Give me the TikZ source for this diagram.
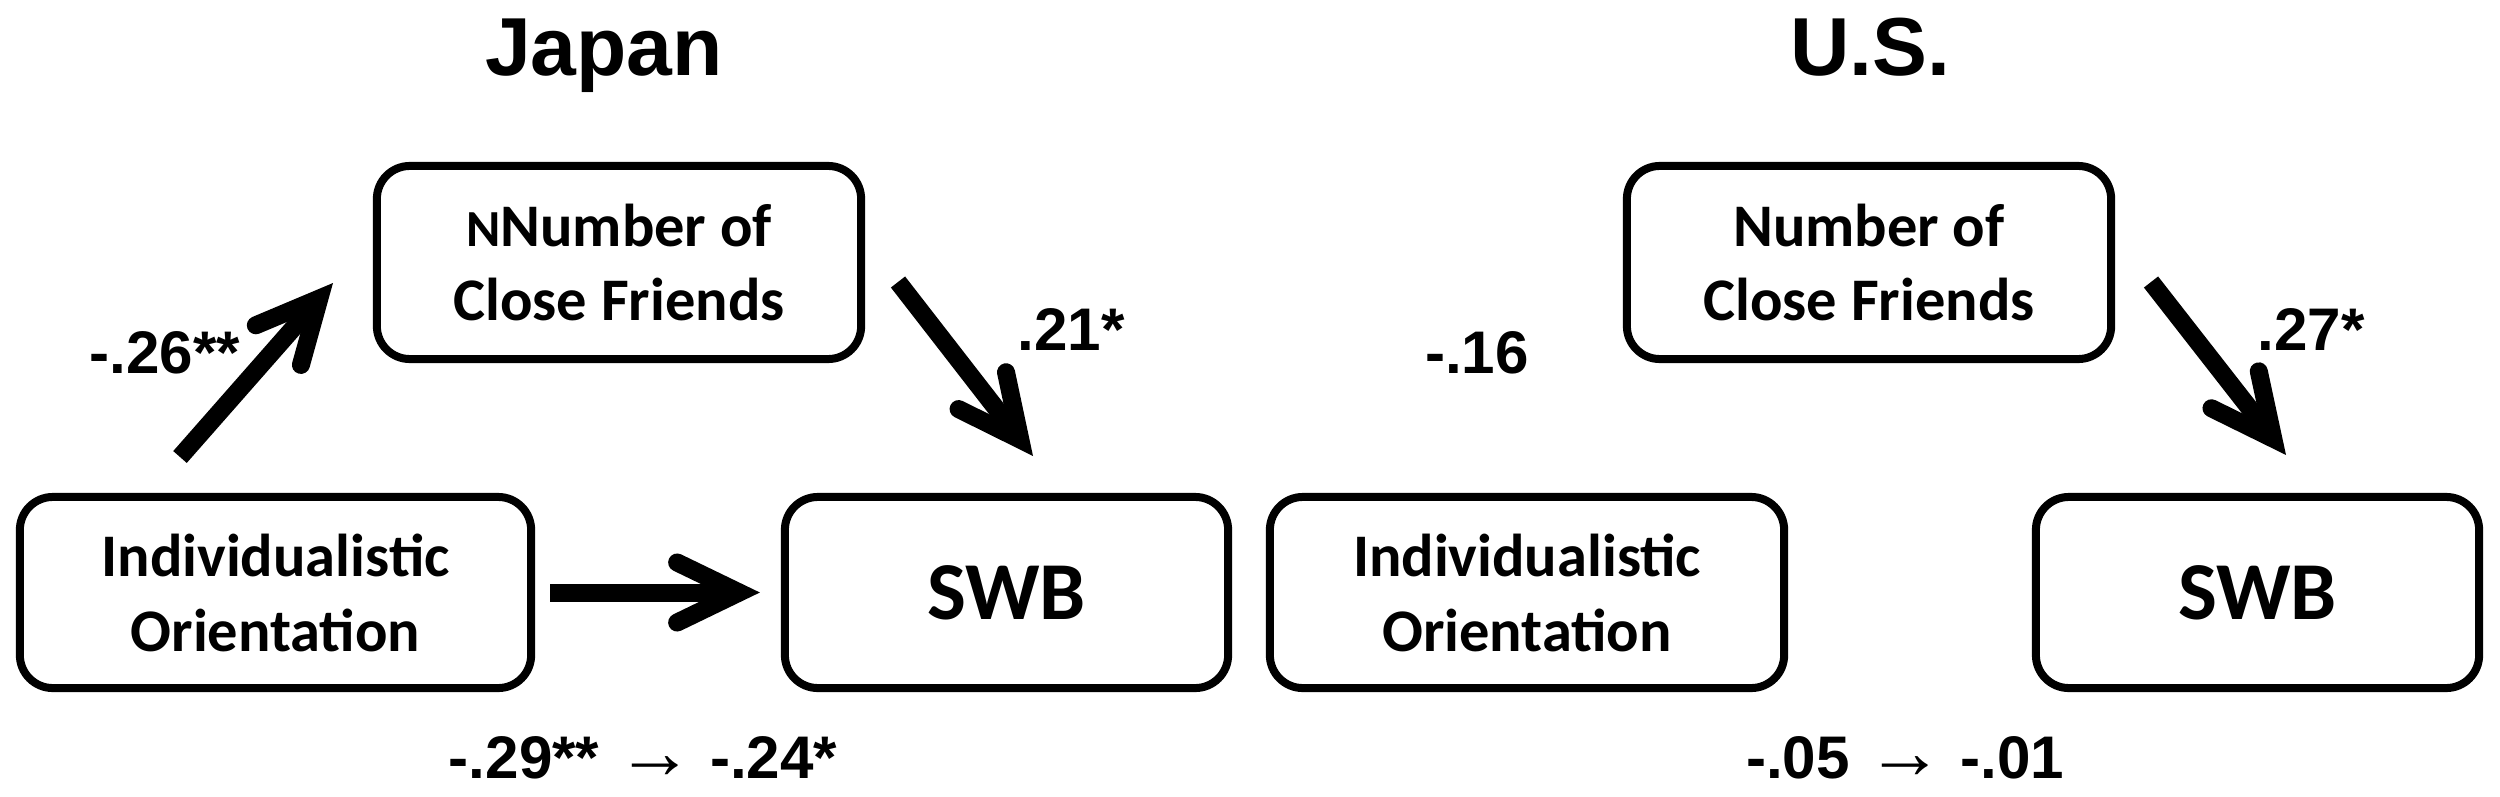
\documentclass[tikz,border=0pt]{standalone}
\usepackage{fontspec}
\usetikzlibrary{arrows.meta}
\newfontfamily\calib{Carlito}
\newfontfamily\arialf{Liberation Sans}
\newcommand{\thinarr}{{\mdseries\fontsize{22pt}{20pt}\selectfont →}}
\begin{document}
\begin{tikzpicture}[x=0.01cm,y=-0.01cm,
  box/.style={draw, line width=0.08cm, rounded corners=0.33cm, inner sep=0pt, outer sep=0.04cm,
    align=center, font=\calib\bfseries\fontsize{17.2pt}{21.3pt}\selectfont},
  bigbox/.style={box, font=\calib\bfseries\fontsize{23.4pt}{28pt}\selectfont},
  lbl/.style={inner sep=0pt, anchor=base, font=\arialf\bfseries\fontsize{17.1pt}{20pt}\selectfont},
  ttl/.style={inner sep=0pt, anchor=base, font=\arialf\bfseries\fontsize{23.4pt}{28pt}\selectfont},
  fat/.style={line width=0.18cm, -{Straight Barb[length=0.62cm, width=0.6cm, line cap=round, line join=miter]}}
]
\useasboundingbox[fill=white] (0,0) rectangle (2500,797);

% titles
\node[ttl] (tjp) at (604,75) {Japan};
\node[ttl] (tus) at (1870,75) {U.S.};

% Japan boxes
\node[box, minimum width=4.84cm, minimum height=1.93cm] (jfr) at (619,262.5)
  {{\fontsize{14.8pt}{14.8pt}\selectfont N}Number of\\Close Friends};
\node[box, minimum width=5.11cm, minimum height=1.91cm] (jind) at (275.5,592.5)
  {Individualistic\\Orientation};
\node[bigbox, minimum width=4.43cm, minimum height=1.91cm] (jswb) at (1006.5,592.5) {SWB};

% US boxes
\node[box, minimum width=4.84cm, minimum height=1.93cm] (ufr) at (1869,262.5)
  {Number of\\Close Friends};
\node[box, minimum width=5.14cm, minimum height=1.91cm] (uind) at (1527,592.5)
  {Individualistic\\Orientation};
\node[bigbox, minimum width=4.43cm, minimum height=1.91cm] (uswb) at (2257.5,592.5) {SWB};

% arrow end points
\coordinate (jAt) at (180,457);
\coordinate (jAh) at (333,283);
\coordinate (jBt) at (898,282);
\coordinate (jBh) at (1033,456);
\coordinate (uBt) at (2151,282);
\coordinate (uBh) at (2286,455);

% Japan arrows
\draw[fat] (jAt) -- (jAh);
\draw[fat] (jBt) -- (jBh);
\draw[fat] ([xshift=0.15cm]jind.east) -- ([xshift=-0.21cm]jswb.west);

% US arrow
\draw[fat] (uBt) -- (uBh);

% labels
\node[lbl] (l26) at (165,373) {-.26**};
\node[lbl] (l21) at (1071,350) {.21*};
\node[lbl] (l16) at (1477,373) {-.16};
\node[lbl] (l27) at (2311,350) {.27*};
\node[lbl] (ljb) at (643,778) {-.29** \thinarr\ -.24*};
\node[lbl] (lub) at (1905,778) {-.05 \thinarr\ -.01};
\end{tikzpicture}
\end{document}
